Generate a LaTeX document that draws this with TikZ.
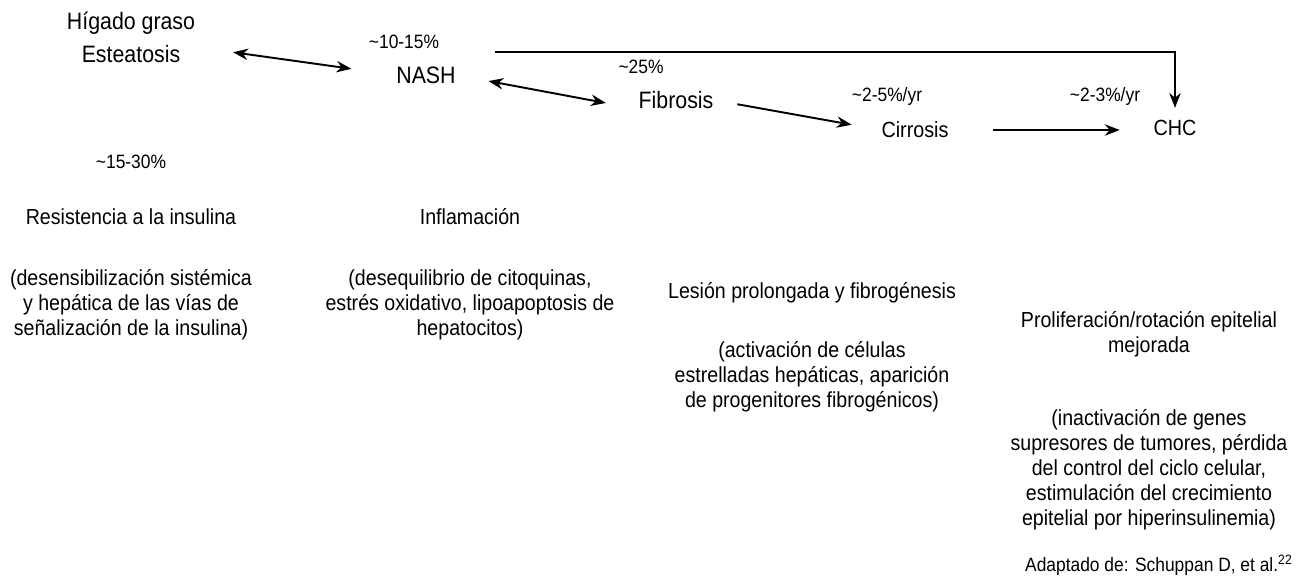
\documentclass[tikz,border=0pt]{standalone}
\usepackage{fontspec}
\setmainfont{Liberation Sans}[FakeStretch=0.9]
\usetikzlibrary{arrows.meta}

\begin{document}
\begin{tikzpicture}[x=0.02cm,y=-0.02cm,
  stage/.style={inner sep=0,font=\fontsize{13.5}{16}\selectfont},
  smallstage/.style={inner sep=0,font=\fontsize{12.5}{15}\selectfont},
  rate/.style={inner sep=0,font=\fontsize{11}{13}\selectfont},
  note/.style={inner sep=0,align=center,font=\fontsize{12.4}{14.2}\selectfont},
  arr/.style={-{Stealth[length=8.5pt,width=6.5pt]},line width=1.1pt},
  dbl/.style={{Stealth[length=8.5pt,width=6.5pt]}-{Stealth[length=8.5pt,width=6.5pt]},line width=1.1pt}]
\useasboundingbox (0,0) rectangle (1306,586);
% stages
\node[stage] (higado) at (131,23) {Hígado graso};
\node[stage] (estea) at (131,54) {Esteatosis};
\node[stage] (nash) at (426,75) {NASH};
\node[stage] (fibrosis) at (676,100) {Fibrosis};
\node[smallstage] (cirrosis) at (915,130) {Cirrosis};
\node[smallstage] (chc) at (1175,128) {CHC};
% rates
\foreach \n/\x/\y/\t in {
  r1/404/42/{10-15\%},
  r2/641/67/{25\%},
  r3/887/96/{2-5\%/yr},
  r4/1105/96/{2-3\%/yr},
  r5/131/162/{15-30\%}}
    \node[rate] (\n) at (\x,\y) {\textasciitilde\t};
% mechanisms
\node[note] (resist) at (131,217) {Resistencia a la insulina};
\node[note] (resdesc) at (131,305) {(desensibilización sistémica\\y hepática de las vías de\\señalización de la insulina)};
\node[note] (infl) at (470,217) {Inflamación};
\node[note] (infldesc) at (470,305) {(desequilibrio de citoquinas,\\estrés oxidativo, lipoapoptosis de\\hepatocitos)};
\node[note] (lesion) at (812,293) {Lesión prolongada y fibrogénesis};
\node[note] (lesdesc) at (812,377) {(activación de células\\estrelladas hepáticas, aparición\\de progenitores fibrogénicos)};
\node[note] (prolif) at (1149,334) {Proliferación/rotación epitelial\\mejorada};
\node[note] (prodesc) at (1149,470) {(inactivación de genes\\supresores de tumores, pérdida\\del control del ciclo celular,\\estimulación del crecimiento\\epitelial por hiperinsulinemia)};
\node[rate,anchor=east] (source) at (1293,565) {Adaptado de: Schuppan D, et al.\textsuperscript{22}};
% arrows
\draw[dbl,shorten <=1.06cm,shorten >=0.9cm] (estea.north east) -- (nash.west);
\draw[dbl,shorten <=0.66cm,shorten >=0.66cm] (nash.east) -- (fibrosis.south west);
\draw[arr,shorten <=0.48cm,shorten >=0.6cm] (fibrosis.east) -- (cirrosis.west);
\draw[arr,shorten <=0.89cm,shorten >=0.67cm] (cirrosis.east) -- (cirrosis.east -| chc.west);
\coordinate (brk) at (495,52);
\draw[arr,shorten >=0.24cm] (brk) -| (chc.north);
\end{tikzpicture}
\end{document}
